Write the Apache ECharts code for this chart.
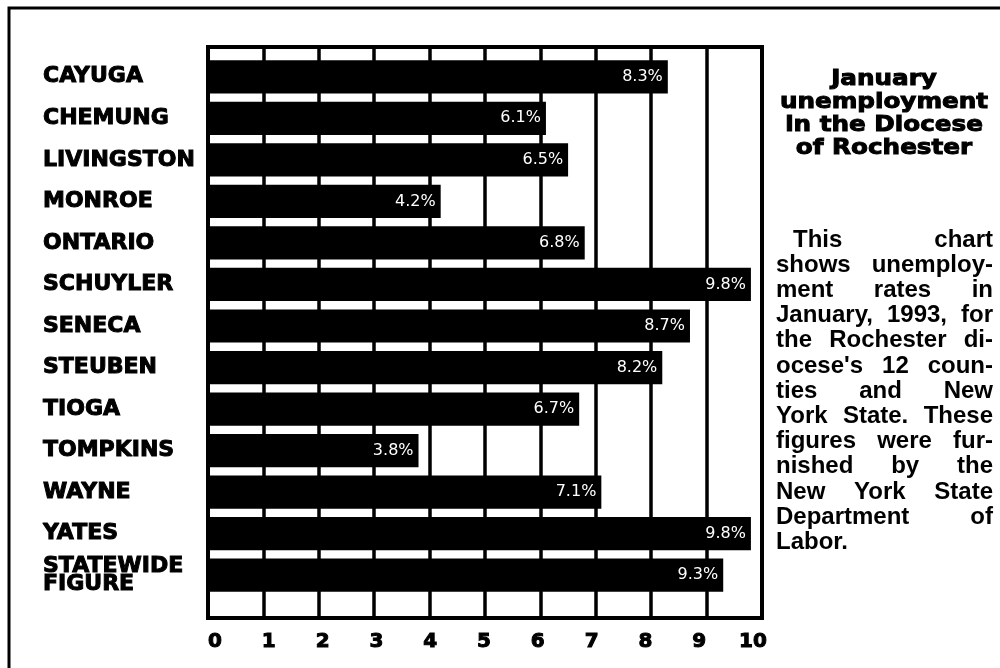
<!DOCTYPE html>
<html>
<head>
<meta charset="utf-8">
<script src="https://cdn.jsdelivr.net/npm/echarts@6/dist/echarts.min.js"></script>
<style>
  html, body { margin: 0; padding: 0; background: #fff; }
  #chart { width: 1000px; height: 668px; }
</style>
</head>
<body>
<div id="chart"></div>
<script>
// data
var counties = ['CAYUGA', 'CHEMUNG', 'LIVINGSTON', 'MONROE', 'ONTARIO', 'SCHUYLER', 'SENECA',
  'STEUBEN', 'TIOGA', 'TOMPKINS', 'WAYNE', 'YATES', 'STATEWIDE\nFIGURE']
var rates = [8.3, 6.1, 6.5, 4.2, 6.8, 9.8, 8.7, 8.2, 6.7, 3.8, 7.1, 9.8, 9.3]
var tickLabels = ['0', '1', '2', '3', '4', '5', '6', '7', '8', '9', '10']

var titleText = 'January\nunemployment\nin the Diocese\nof Rochester'
var bodyLines = ['This chart', 'shows unemploy-', 'ment rates in', 'January, 1993, for',
  'the Rochester di-', "ocese's 12 coun-", 'ties and New', 'York State. These',
  'figures were fur-', 'nished by the', 'New York State', 'Department of', 'Labor.']

var FONT = 'DejaVu Sans'
var bodyFont = 'bold 24px "Liberation Sans"'

// justified paragraph: one text per word
function bodyText() {
  var ctx = document.createElement('canvas').getContext('2d')
  ctx.font = bodyFont
  var left = 776, right = 993, top = 228, step = 25.2
  var out = []
  bodyLines.forEach(function (line, i) {
    var words = line.split(' ')
    var x0 = i === 0 ? left + 17 : left
    var widths = words.map(function (w) { return ctx.measureText(w).width })
    var sum = widths.reduce(function (a, b) { return a + b }, 0)
    var last = i === bodyLines.length - 1
    var gap = (last || words.length < 2) ? ctx.measureText(' ').width : (right - x0 - sum) / (words.length - 1)
    var x = x0
    words.forEach(function (w, j) {
      out.push({
        type: 'text', x: x, y: top + i * step,
        style: { text: w, font: bodyFont, fill: '#000', textVerticalAlign: 'top' }
      })
      x += widths[j] + gap
    })
  })
  return out
}

var myChart = echarts.init(document.getElementById('chart'))
var option = {
  backgroundColor: '#fff',
  animation: false,
  grid: [
    // frame + vertical rules
    { left: 208, top: 47, width: 554, height: 571, show: true, borderColor: '#000', borderWidth: 4, backgroundColor: '#fff' },
    // bars
    { left: 208, top: 56, width: 554, height: 540 },
    // tick numbers
    { left: 215, top: 47, width: 538, height: 571 }
  ],
  xAxis: [
    {
      gridIndex: 0, type: 'value', min: 0, max: 10, interval: 1,
      axisLine: { show: false }, axisTick: { show: false }, axisLabel: { show: false },
      splitLine: { show: true, lineStyle: { color: '#000', width: 3.5 } }
    },
    { gridIndex: 1, type: 'value', min: 0, max: 10, show: false },
    {
      gridIndex: 2, type: 'value', min: 0, max: 10, interval: 1,
      axisLine: { show: false }, axisTick: { show: false }, splitLine: { show: false },
      axisLabel: {
        margin: 14, color: '#000', fontFamily: FONT, fontWeight: 'bold', fontSize: 20,
        textBorderColor: '#000', textBorderWidth: 1,
        formatter: function (v) { return tickLabels[Math.round(v)] }
      }
    }
  ],
  yAxis: [
    { gridIndex: 0, type: 'value', show: false },
    {
      gridIndex: 1, type: 'category', data: counties, inverse: true,
      axisLine: { show: false }, axisTick: { show: false }, splitLine: { show: false },
      axisLabel: {
        align: 'left', margin: 165, color: '#000', fontFamily: FONT,
        fontWeight: 'bold', fontSize: 22, lineHeight: 18,
        textBorderColor: '#000', textBorderWidth: 1
      }
    },
    { gridIndex: 2, type: 'value', show: false }
  ],
  series: [
    {
      type: 'bar',
      xAxisIndex: 1,
      yAxisIndex: 1,
      data: rates,
      barCategoryGap: '20%',
      itemStyle: { color: '#000' },
      label: {
        show: true, position: 'insideRight', distance: 5,
        color: '#fff', fontFamily: FONT, fontSize: 16,
        formatter: '{c}%'
      }
    }
  ],
  graphic: [
    {
      type: 'polyline', silent: true,
      shape: { points: [[9, 668], [9, 8], [1000, 8]] },
      style: { stroke: '#000', lineWidth: 3, fill: null }
    },
    {
      type: 'text', x: 884, y: 68, scaleX: 1.12,
      style: {
        text: titleText, font: 'bold 22px "DejaVu Sans"',
        textAlign: 'center', textVerticalAlign: 'top', lineHeight: 23,
        fill: '#000', stroke: '#000', lineWidth: 1
      }
    }
  ].concat(bodyText())
}
myChart.setOption(option)
</script>
</body>
</html>
